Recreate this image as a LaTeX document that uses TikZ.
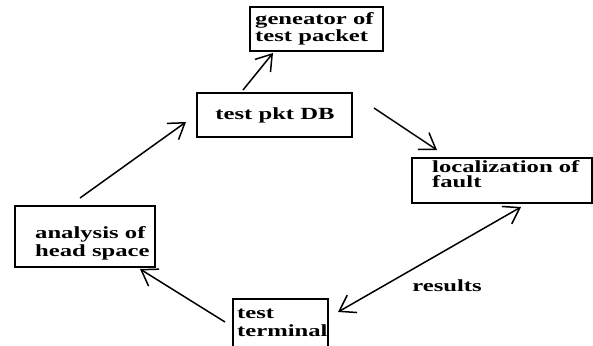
\documentclass[tikz,border=0pt]{standalone}
\usepackage{fontspec}
\setmainfont{Liberation Serif}[FakeStretch=1.45]
\usetikzlibrary{arrows.meta}
\begin{document}
\begin{tikzpicture}[x=1pt,y=-1pt,
  box/.style={draw,line width=1.6pt,rectangle,inner sep=0pt},
  txt/.style={font=\fontsize{17}{17.5}\selectfont\bfseries,inner sep=0pt,align=left,anchor=west},
  tip/.tip={Straight Barb[length=15pt,width=20pt,line width=1.5pt]},
  conn/.style={line width=1.5pt,-tip},
  lbl/.style={font=\fontsize{17}{17}\selectfont\bfseries,inner sep=0pt}]
\useasboundingbox (0,0) rectangle (593,345);
\node[box,minimum width=133pt,minimum height=44pt] (gen) at (316.5,29) {};
\node[txt] (gent) at (255,29) {geneator of\\test packet};
\node[box,minimum width=155pt,minimum height=44pt] (db) at (274.5,115) {};
\node[lbl] (dbt) at (275,115) {test pkt DB};
\node[box,minimum width=180pt,minimum height=45pt] (loc) at (502,180.5) {};
\node[txt,font=\fontsize{17}{15.5}\selectfont\bfseries] (loct) at (432,174) {localization of\\fault};
\node[box,minimum width=140pt,minimum height=61pt] (ana) at (85,236.5) {};
\node[txt,font=\fontsize{17}{18}\selectfont\bfseries] (anat) at (35,243) {analysis of\\head space};
\node[box,minimum width=95pt,minimum height=51pt] (term) at (280.5,324.5) {};
\node[txt] (termt) at (237,323) {test\\terminal};
\node[lbl] (res) at (447,286) {results};
\coordinate (a1) at (243,90);  \coordinate (a2) at (273,53);
\coordinate (b1) at (374,108); \coordinate (b2) at (437,150);
\coordinate (c1) at (521,207); \coordinate (c2) at (338,312);
\coordinate (d1) at (225,322); \coordinate (d2) at (140,269);
\coordinate (e1) at (80,198);  \coordinate (e2) at (186,122);
\draw[conn] (a1) -- (a2);
\draw[conn] (b1) -- (b2);
\draw[conn,tip-tip] (c1) -- (c2);
\draw[conn] (d1) -- (d2);
\draw[conn] (e1) -- (e2);
\end{tikzpicture}
\end{document}
